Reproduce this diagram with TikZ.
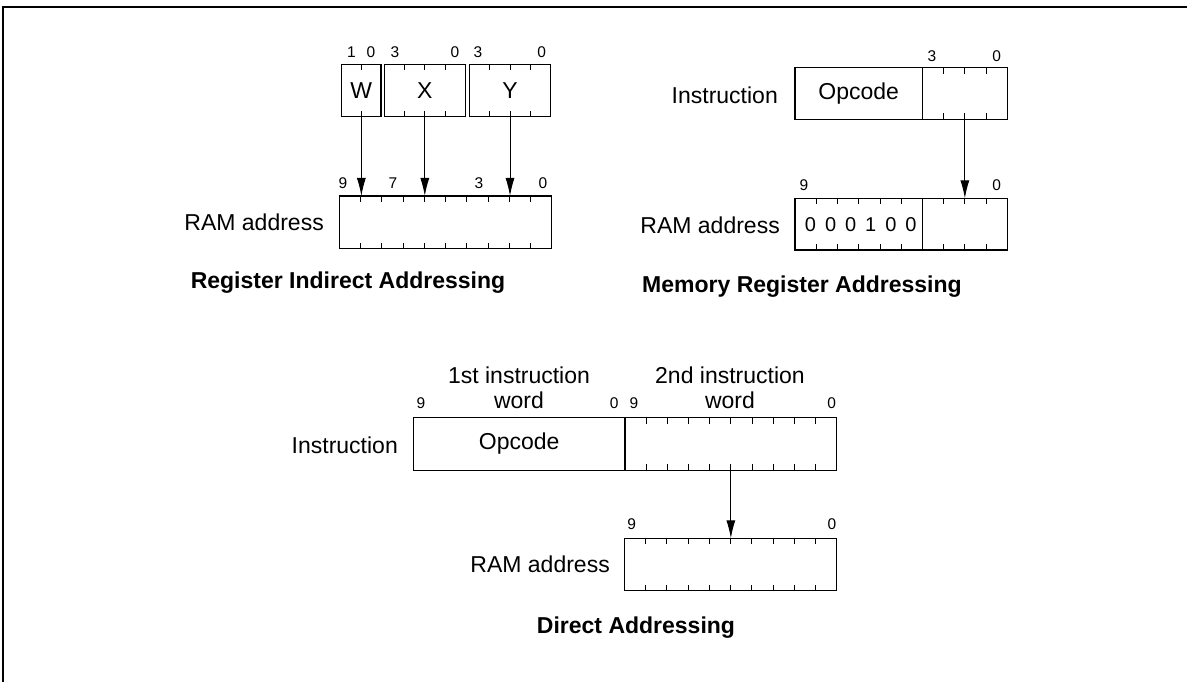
\documentclass[tikz,border=0pt]{standalone}
\usepackage{fontspec}
\setmainfont{Liberation Sans}
\usetikzlibrary{arrows.meta,calc}
\begin{document}
\begin{tikzpicture}[x=1bp,y=-1bp,
  box/.style={draw,line width=1.1bp,minimum height=52.5bp,inner sep=0pt,outer sep=0pt,anchor=north west,font=\fontsize{23bp}{27bp}\selectfont},
  lbl/.style={font=\fontsize{23bp}{27bp}\selectfont,inner sep=0pt},
  num/.style={font=\fontsize{15.5bp}{18bp}\selectfont,inner sep=0pt},
  digit/.style={font=\fontsize{20bp}{24bp}\selectfont,inner sep=0pt},
  ttl/.style={font=\fontsize{23bp}{27bp}\selectfont\bfseries,inner sep=0pt},
  tick/.style={line width=0.8bp},
  conn/.style={line width=1bp,-{Latex[length=18bp,width=9bp]}}]
\useasboundingbox (0,0) rectangle (1187,682);
% frame
\draw[line width=1.5bp] (3,682) -- (3,7) -- (1187,7);

% ---------- Register Indirect Addressing ----------
\node[box,minimum width=39.3bp] (W) at (341.7,64.3) {W};
\node[box,minimum width=81bp] (X) at (384.3,64.3) {\raisebox{-3bp}{X}};
\node[box,minimum width=81.4bp] (Y) at (469.3,64.3) {Y};
\draw[tick] (W.north) -- ++(0,6) (W.south) -- ++(0,-6);
\foreach \k in {1,2,3}{
  \draw[tick] ($(X.north west)+(\k*20.25,0)$) -- ++(0,6) ($(X.south west)+(\k*20.25,0)$) -- ++(0,-6);
  \draw[tick] ($(Y.north west)+(\k*20.35,0)$) -- ++(0,6) ($(Y.south west)+(\k*20.35,0)$) -- ++(0,-6);
}
\node[box,minimum width=212.4bp] (R1) at (339.3,196) {};
\foreach \k in {1,...,9}
  \draw[tick] ($(R1.north west)+(\k*21.24,0)$) -- ++(0,6) ($(R1.south west)+(\k*21.24,0)$) -- ++(0,-6);
\draw[conn] (W.south) -- (W.south |- R1.north);
\draw[conn] (X.south) -- (X.south |- R1.north);
\draw[conn] (Y.south) -- (Y.south |- R1.north);
\node[num] (n1) at (351.5,52) {1};
\node[num] (n2) at (371,52) {0};
\node[num] (n3) at (395,52) {3};
\node[num] (n4) at (455,52) {0};
\node[num] (n5) at (478,52) {3};
\node[num] (n6) at (541.7,52) {0};
\node[num] (n7) at (343,183) {9};
\node[num] (n8) at (393,183) {7};
\node[num] (n9) at (479,183) {3};
\node[num] (n10) at (543,183) {0};
\node[lbl,anchor=east] (ra1) at (324,222) {RAM address};
\node[ttl] (t1) at (348,283) {Register Indirect Addressing};

% ---------- Memory Register Addressing ----------
\node[box,minimum width=127.4bp,minimum height=51.6bp] (MI1) at (795,67.7) {Opcode};
\node[box,minimum width=84.9bp,minimum height=51.6bp] (MI2) at (922.4,67.7) {};
\foreach \k in {1,2,3}
  \draw[tick] ($(MI2.north west)+(\k*21.23,0)$) -- ++(0,6) ($(MI2.south west)+(\k*21.23,0)$) -- ++(0,-6);
\node[box,minimum width=127.4bp,minimum height=51.7bp] (MR1) at (795,198.3) {};
\node[box,minimum width=84.9bp,minimum height=51.7bp] (MR2) at (922.4,198.3) {};
\foreach \k in {1,...,5}
  \draw[tick] ($(MR1.north west)+(\k*21.23,0)$) -- ++(0,6) ($(MR1.south west)+(\k*21.23,0)$) -- ++(0,-6);
\foreach \k in {1,2,3}
  \draw[tick] ($(MR2.north west)+(\k*21.23,0)$) -- ++(0,6) ($(MR2.south west)+(\k*21.23,0)$) -- ++(0,-6);
\foreach \d [count=\i from 0] in {0,0,0,1,0,0}
  \node[digit] (d\i) at (810.5+\i*20.1,225) {\d};
\draw[conn] (MI2.south) -- (MI2.south |- MR2.north);
\node[num] (m1) at (932,56) {3};
\node[num] (m2) at (996.7,56) {0};
\node[num] (m3) at (804,185) {9};
\node[num] (m4) at (996.7,185) {0};
\node[lbl,anchor=east] (mi) at (778,95) {Instruction};
\node[lbl,anchor=east] (ra2) at (780,225) {RAM address};
\node[ttl] (t2) at (802,287) {Memory Register Addressing};

% ---------- Direct Addressing ----------
\node[box,minimum width=211.7bp] (DI1) at (413.3,417.7) {Opcode};
\node[box,minimum width=211.7bp] (DI2) at (625,417.7) {};
\foreach \k in {1,...,9}
  \draw[tick] ($(DI2.north west)+(\k*21.17,0)$) -- ++(0,6) ($(DI2.south west)+(\k*21.17,0)$) -- ++(0,-6);
\node[box,minimum width=212.4bp] (DR) at (624.3,538.3) {};
\foreach \k in {1,...,9}
  \draw[tick] ($(DR.north west)+(\k*21.24,0)$) -- ++(0,6) ($(DR.south west)+(\k*21.24,0)$) -- ++(0,-6);
\draw[conn] (DI2.south) -- (DI2.south |- DR.north);
\node[lbl,align=center,font=\fontsize{23bp}{25bp}\selectfont] (w1) at (519,388) {1st instruction\\word};
\node[lbl,align=center,font=\fontsize{23bp}{25bp}\selectfont] (w2) at (730,388) {2nd instruction\\word};
\node[num] (p1) at (421,403) {9};
\node[num] (p2) at (614.3,403) {0};
\node[num] (p3) at (634,403) {9};
\node[num] (p4) at (831.7,403) {0};
\node[num] (p5) at (631.7,524) {9};
\node[num] (p6) at (832,524) {0};
\node[lbl,anchor=east] (di) at (398,445) {Instruction};
\node[lbl,anchor=east] (ra3) at (610,564) {RAM address};
\node[ttl] (t3) at (636,628) {Direct Addressing};
\end{tikzpicture}
\end{document}
